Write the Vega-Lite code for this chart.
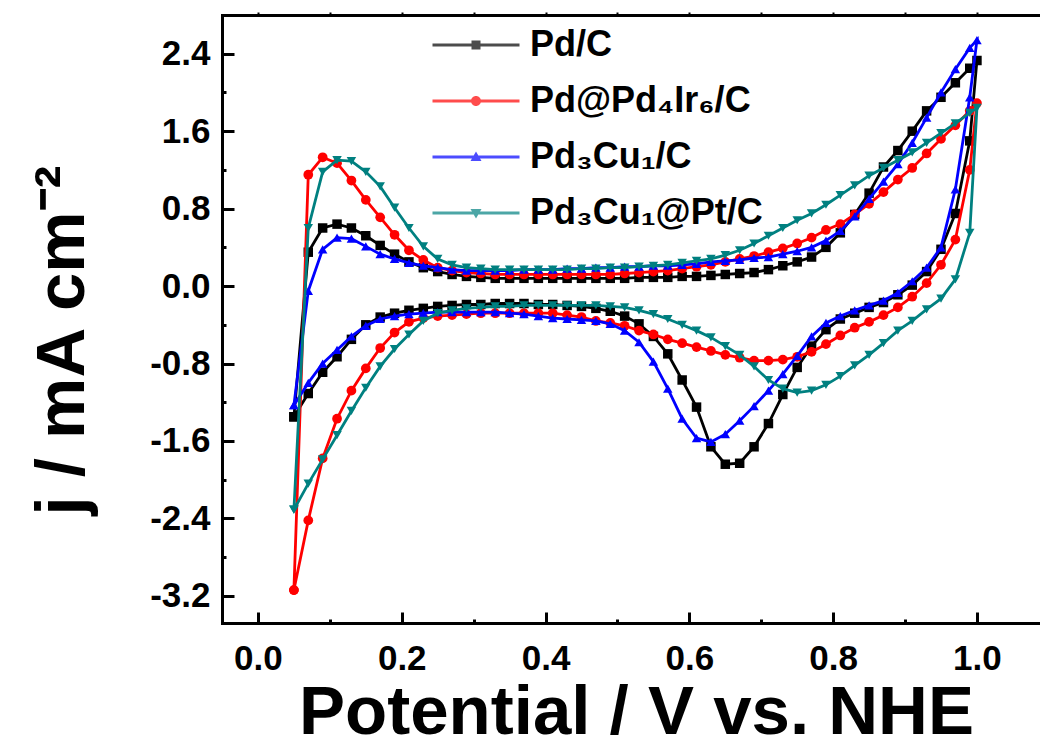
{
"$schema":"https://vega.github.io/schema/vega-lite/v6.json",
"width":818,"height":608,
"autosize":{"type":"none"},
"padding":{"left":222,"top":15,"right":0,"bottom":117},
"background":"white",
"config":{"view":{"stroke":null},"font":"Liberation Sans",
"axis":{"grid":false,"domainColor":"black","domainWidth":3,"domainCap":"square","tickColor":"black","tickWidth":3,"labelFont":"Liberation Sans","labelFontWeight":"bold","labelFontSize":35,"labelColor":"black","titleFont":"Liberation Sans","titleFontWeight":"bold","titleFontSize":69,"titleColor":"black","labelOverlap":false},
"legend":{"labelFont":"Liberation Sans","labelFontWeight":"bold","labelFontSize":36,"labelColor":"black","labelLimit":0}},
"data":{"values":[
{"s":"Pd/C","i":0,"v":0.05,"j":-1.35},{"s":"Pd/C","i":1,"v":0.07,"j":0.35},{"s":"Pd/C","i":2,"v":0.09,"j":0.60},{"s":"Pd/C","i":3,"v":0.11,"j":0.64},{"s":"Pd/C","i":4,"v":0.13,"j":0.60},{"s":"Pd/C","i":5,"v":0.15,"j":0.52},{"s":"Pd/C","i":6,"v":0.17,"j":0.42},{"s":"Pd/C","i":7,"v":0.19,"j":0.33},{"s":"Pd/C","i":8,"v":0.21,"j":0.25},{"s":"Pd/C","i":9,"v":0.23,"j":0.19},{"s":"Pd/C","i":10,"v":0.25,"j":0.15},{"s":"Pd/C","i":11,"v":0.27,"j":0.12},{"s":"Pd/C","i":12,"v":0.29,"j":0.10},{"s":"Pd/C","i":13,"v":0.31,"j":0.09},{"s":"Pd/C","i":14,"v":0.33,"j":0.08},{"s":"Pd/C","i":15,"v":0.35,"j":0.08},{"s":"Pd/C","i":16,"v":0.37,"j":0.08},{"s":"Pd/C","i":17,"v":0.39,"j":0.08},{"s":"Pd/C","i":18,"v":0.41,"j":0.08},{"s":"Pd/C","i":19,"v":0.43,"j":0.08},{"s":"Pd/C","i":20,"v":0.45,"j":0.08},{"s":"Pd/C","i":21,"v":0.47,"j":0.08},{"s":"Pd/C","i":22,"v":0.49,"j":0.08},{"s":"Pd/C","i":23,"v":0.51,"j":0.08},{"s":"Pd/C","i":24,"v":0.53,"j":0.09},{"s":"Pd/C","i":25,"v":0.55,"j":0.09},{"s":"Pd/C","i":26,"v":0.57,"j":0.09},{"s":"Pd/C","i":27,"v":0.59,"j":0.10},{"s":"Pd/C","i":28,"v":0.61,"j":0.10},{"s":"Pd/C","i":29,"v":0.63,"j":0.11},{"s":"Pd/C","i":30,"v":0.65,"j":0.12},{"s":"Pd/C","i":31,"v":0.67,"j":0.13},{"s":"Pd/C","i":32,"v":0.69,"j":0.14},{"s":"Pd/C","i":33,"v":0.71,"j":0.17},{"s":"Pd/C","i":34,"v":0.73,"j":0.21},{"s":"Pd/C","i":35,"v":0.75,"j":0.25},{"s":"Pd/C","i":36,"v":0.77,"j":0.30},{"s":"Pd/C","i":37,"v":0.79,"j":0.40},{"s":"Pd/C","i":38,"v":0.81,"j":0.55},{"s":"Pd/C","i":39,"v":0.83,"j":0.74},{"s":"Pd/C","i":40,"v":0.85,"j":0.96},{"s":"Pd/C","i":41,"v":0.87,"j":1.23},{"s":"Pd/C","i":42,"v":0.89,"j":1.40},{"s":"Pd/C","i":43,"v":0.91,"j":1.60},{"s":"Pd/C","i":44,"v":0.93,"j":1.81},{"s":"Pd/C","i":45,"v":0.95,"j":1.95},{"s":"Pd/C","i":46,"v":0.97,"j":2.10},{"s":"Pd/C","i":47,"v":0.99,"j":2.25},{"s":"Pd/C","i":48,"v":1.0,"j":2.33},
{"s":"Pd/C","i":49,"v":0.99,"j":1.50},{"s":"Pd/C","i":50,"v":0.97,"j":0.75},{"s":"Pd/C","i":51,"v":0.95,"j":0.38},{"s":"Pd/C","i":52,"v":0.93,"j":0.15},{"s":"Pd/C","i":53,"v":0.91,"j":0.01},{"s":"Pd/C","i":54,"v":0.89,"j":-0.09},{"s":"Pd/C","i":55,"v":0.87,"j":-0.17},{"s":"Pd/C","i":56,"v":0.85,"j":-0.22},{"s":"Pd/C","i":57,"v":0.83,"j":-0.28},{"s":"Pd/C","i":58,"v":0.81,"j":-0.34},{"s":"Pd/C","i":59,"v":0.79,"j":-0.45},{"s":"Pd/C","i":60,"v":0.77,"j":-0.62},{"s":"Pd/C","i":61,"v":0.75,"j":-0.84},{"s":"Pd/C","i":62,"v":0.73,"j":-1.12},{"s":"Pd/C","i":63,"v":0.71,"j":-1.42},{"s":"Pd/C","i":64,"v":0.69,"j":-1.66},{"s":"Pd/C","i":65,"v":0.67,"j":-1.83},{"s":"Pd/C","i":66,"v":0.65,"j":-1.84},{"s":"Pd/C","i":67,"v":0.63,"j":-1.66},{"s":"Pd/C","i":68,"v":0.61,"j":-1.25},{"s":"Pd/C","i":69,"v":0.59,"j":-0.97},{"s":"Pd/C","i":70,"v":0.57,"j":-0.70},{"s":"Pd/C","i":71,"v":0.55,"j":-0.52},{"s":"Pd/C","i":72,"v":0.53,"j":-0.39},{"s":"Pd/C","i":73,"v":0.51,"j":-0.31},{"s":"Pd/C","i":74,"v":0.49,"j":-0.26},{"s":"Pd/C","i":75,"v":0.47,"j":-0.23},{"s":"Pd/C","i":76,"v":0.45,"j":-0.21},{"s":"Pd/C","i":77,"v":0.43,"j":-0.20},{"s":"Pd/C","i":78,"v":0.41,"j":-0.19},{"s":"Pd/C","i":79,"v":0.39,"j":-0.19},{"s":"Pd/C","i":80,"v":0.37,"j":-0.18},{"s":"Pd/C","i":81,"v":0.35,"j":-0.18},{"s":"Pd/C","i":82,"v":0.33,"j":-0.18},{"s":"Pd/C","i":83,"v":0.31,"j":-0.19},{"s":"Pd/C","i":84,"v":0.29,"j":-0.19},{"s":"Pd/C","i":85,"v":0.27,"j":-0.20},{"s":"Pd/C","i":86,"v":0.25,"j":-0.21},{"s":"Pd/C","i":87,"v":0.23,"j":-0.23},{"s":"Pd/C","i":88,"v":0.21,"j":-0.25},{"s":"Pd/C","i":89,"v":0.19,"j":-0.28},{"s":"Pd/C","i":90,"v":0.17,"j":-0.32},{"s":"Pd/C","i":91,"v":0.15,"j":-0.40},{"s":"Pd/C","i":92,"v":0.13,"j":-0.55},{"s":"Pd/C","i":93,"v":0.11,"j":-0.73},{"s":"Pd/C","i":94,"v":0.09,"j":-0.89},{"s":"Pd/C","i":95,"v":0.07,"j":-1.11},{"s":"Pd/C","i":96,"v":0.05,"j":-1.35},
{"s":"Pd@Pd₄Ir₆/C","i":0,"v":0.05,"j":-3.14},{"s":"Pd@Pd₄Ir₆/C","i":1,"v":0.07,"j":1.15},{"s":"Pd@Pd₄Ir₆/C","i":2,"v":0.09,"j":1.33},{"s":"Pd@Pd₄Ir₆/C","i":3,"v":0.11,"j":1.27},{"s":"Pd@Pd₄Ir₆/C","i":4,"v":0.13,"j":1.09},{"s":"Pd@Pd₄Ir₆/C","i":5,"v":0.15,"j":0.89},{"s":"Pd@Pd₄Ir₆/C","i":6,"v":0.17,"j":0.71},{"s":"Pd@Pd₄Ir₆/C","i":7,"v":0.19,"j":0.53},{"s":"Pd@Pd₄Ir₆/C","i":8,"v":0.21,"j":0.37},{"s":"Pd@Pd₄Ir₆/C","i":9,"v":0.23,"j":0.27},{"s":"Pd@Pd₄Ir₆/C","i":10,"v":0.25,"j":0.19},{"s":"Pd@Pd₄Ir₆/C","i":11,"v":0.27,"j":0.16},{"s":"Pd@Pd₄Ir₆/C","i":12,"v":0.29,"j":0.14},{"s":"Pd@Pd₄Ir₆/C","i":13,"v":0.31,"j":0.13},{"s":"Pd@Pd₄Ir₆/C","i":14,"v":0.33,"j":0.12},{"s":"Pd@Pd₄Ir₆/C","i":15,"v":0.35,"j":0.12},{"s":"Pd@Pd₄Ir₆/C","i":16,"v":0.37,"j":0.12},{"s":"Pd@Pd₄Ir₆/C","i":17,"v":0.39,"j":0.12},{"s":"Pd@Pd₄Ir₆/C","i":18,"v":0.41,"j":0.12},{"s":"Pd@Pd₄Ir₆/C","i":19,"v":0.43,"j":0.12},{"s":"Pd@Pd₄Ir₆/C","i":20,"v":0.45,"j":0.12},{"s":"Pd@Pd₄Ir₆/C","i":21,"v":0.47,"j":0.12},{"s":"Pd@Pd₄Ir₆/C","i":22,"v":0.49,"j":0.12},{"s":"Pd@Pd₄Ir₆/C","i":23,"v":0.51,"j":0.13},{"s":"Pd@Pd₄Ir₆/C","i":24,"v":0.53,"j":0.14},{"s":"Pd@Pd₄Ir₆/C","i":25,"v":0.55,"j":0.15},{"s":"Pd@Pd₄Ir₆/C","i":26,"v":0.57,"j":0.16},{"s":"Pd@Pd₄Ir₆/C","i":27,"v":0.59,"j":0.18},{"s":"Pd@Pd₄Ir₆/C","i":28,"v":0.61,"j":0.20},{"s":"Pd@Pd₄Ir₆/C","i":29,"v":0.63,"j":0.22},{"s":"Pd@Pd₄Ir₆/C","i":30,"v":0.65,"j":0.25},{"s":"Pd@Pd₄Ir₆/C","i":31,"v":0.67,"j":0.28},{"s":"Pd@Pd₄Ir₆/C","i":32,"v":0.69,"j":0.31},{"s":"Pd@Pd₄Ir₆/C","i":33,"v":0.71,"j":0.35},{"s":"Pd@Pd₄Ir₆/C","i":34,"v":0.73,"j":0.39},{"s":"Pd@Pd₄Ir₆/C","i":35,"v":0.75,"j":0.44},{"s":"Pd@Pd₄Ir₆/C","i":36,"v":0.77,"j":0.50},{"s":"Pd@Pd₄Ir₆/C","i":37,"v":0.79,"j":0.58},{"s":"Pd@Pd₄Ir₆/C","i":38,"v":0.81,"j":0.64},{"s":"Pd@Pd₄Ir₆/C","i":39,"v":0.83,"j":0.74},{"s":"Pd@Pd₄Ir₆/C","i":40,"v":0.85,"j":0.85},{"s":"Pd@Pd₄Ir₆/C","i":41,"v":0.87,"j":0.97},{"s":"Pd@Pd₄Ir₆/C","i":42,"v":0.89,"j":1.10},{"s":"Pd@Pd₄Ir₆/C","i":43,"v":0.91,"j":1.22},{"s":"Pd@Pd₄Ir₆/C","i":44,"v":0.93,"j":1.37},{"s":"Pd@Pd₄Ir₆/C","i":45,"v":0.95,"j":1.52},{"s":"Pd@Pd₄Ir₆/C","i":46,"v":0.97,"j":1.66},{"s":"Pd@Pd₄Ir₆/C","i":47,"v":0.99,"j":1.81},{"s":"Pd@Pd₄Ir₆/C","i":48,"v":1.0,"j":1.89},
{"s":"Pd@Pd₄Ir₆/C","i":49,"v":0.99,"j":1.20},{"s":"Pd@Pd₄Ir₆/C","i":50,"v":0.97,"j":0.48},{"s":"Pd@Pd₄Ir₆/C","i":51,"v":0.95,"j":0.22},{"s":"Pd@Pd₄Ir₆/C","i":52,"v":0.93,"j":0.03},{"s":"Pd@Pd₄Ir₆/C","i":53,"v":0.91,"j":-0.11},{"s":"Pd@Pd₄Ir₆/C","i":54,"v":0.89,"j":-0.22},{"s":"Pd@Pd₄Ir₆/C","i":55,"v":0.87,"j":-0.30},{"s":"Pd@Pd₄Ir₆/C","i":56,"v":0.85,"j":-0.37},{"s":"Pd@Pd₄Ir₆/C","i":57,"v":0.83,"j":-0.43},{"s":"Pd@Pd₄Ir₆/C","i":58,"v":0.81,"j":-0.51},{"s":"Pd@Pd₄Ir₆/C","i":59,"v":0.79,"j":-0.60},{"s":"Pd@Pd₄Ir₆/C","i":60,"v":0.77,"j":-0.68},{"s":"Pd@Pd₄Ir₆/C","i":61,"v":0.75,"j":-0.73},{"s":"Pd@Pd₄Ir₆/C","i":62,"v":0.73,"j":-0.76},{"s":"Pd@Pd₄Ir₆/C","i":63,"v":0.71,"j":-0.77},{"s":"Pd@Pd₄Ir₆/C","i":64,"v":0.69,"j":-0.77},{"s":"Pd@Pd₄Ir₆/C","i":65,"v":0.67,"j":-0.74},{"s":"Pd@Pd₄Ir₆/C","i":66,"v":0.65,"j":-0.71},{"s":"Pd@Pd₄Ir₆/C","i":67,"v":0.63,"j":-0.67},{"s":"Pd@Pd₄Ir₆/C","i":68,"v":0.61,"j":-0.63},{"s":"Pd@Pd₄Ir₆/C","i":69,"v":0.59,"j":-0.59},{"s":"Pd@Pd₄Ir₆/C","i":70,"v":0.57,"j":-0.55},{"s":"Pd@Pd₄Ir₆/C","i":71,"v":0.55,"j":-0.50},{"s":"Pd@Pd₄Ir₆/C","i":72,"v":0.53,"j":-0.46},{"s":"Pd@Pd₄Ir₆/C","i":73,"v":0.51,"j":-0.41},{"s":"Pd@Pd₄Ir₆/C","i":74,"v":0.49,"j":-0.38},{"s":"Pd@Pd₄Ir₆/C","i":75,"v":0.47,"j":-0.36},{"s":"Pd@Pd₄Ir₆/C","i":76,"v":0.45,"j":-0.32},{"s":"Pd@Pd₄Ir₆/C","i":77,"v":0.43,"j":-0.30},{"s":"Pd@Pd₄Ir₆/C","i":78,"v":0.41,"j":-0.28},{"s":"Pd@Pd₄Ir₆/C","i":79,"v":0.39,"j":-0.28},{"s":"Pd@Pd₄Ir₆/C","i":80,"v":0.37,"j":-0.28},{"s":"Pd@Pd₄Ir₆/C","i":81,"v":0.35,"j":-0.28},{"s":"Pd@Pd₄Ir₆/C","i":82,"v":0.33,"j":-0.28},{"s":"Pd@Pd₄Ir₆/C","i":83,"v":0.31,"j":-0.28},{"s":"Pd@Pd₄Ir₆/C","i":84,"v":0.29,"j":-0.29},{"s":"Pd@Pd₄Ir₆/C","i":85,"v":0.27,"j":-0.30},{"s":"Pd@Pd₄Ir₆/C","i":86,"v":0.25,"j":-0.31},{"s":"Pd@Pd₄Ir₆/C","i":87,"v":0.23,"j":-0.33},{"s":"Pd@Pd₄Ir₆/C","i":88,"v":0.21,"j":-0.37},{"s":"Pd@Pd₄Ir₆/C","i":89,"v":0.19,"j":-0.48},{"s":"Pd@Pd₄Ir₆/C","i":90,"v":0.17,"j":-0.64},{"s":"Pd@Pd₄Ir₆/C","i":91,"v":0.15,"j":-0.85},{"s":"Pd@Pd₄Ir₆/C","i":92,"v":0.13,"j":-1.08},{"s":"Pd@Pd₄Ir₆/C","i":93,"v":0.11,"j":-1.37},{"s":"Pd@Pd₄Ir₆/C","i":94,"v":0.09,"j":-1.78},{"s":"Pd@Pd₄Ir₆/C","i":95,"v":0.07,"j":-2.42},{"s":"Pd@Pd₄Ir₆/C","i":96,"v":0.05,"j":-3.14},
{"s":"Pd₃Cu₁/C","i":0,"v":0.05,"j":-1.23},{"s":"Pd₃Cu₁/C","i":1,"v":0.07,"j":-0.05},{"s":"Pd₃Cu₁/C","i":2,"v":0.09,"j":0.38},{"s":"Pd₃Cu₁/C","i":3,"v":0.11,"j":0.50},{"s":"Pd₃Cu₁/C","i":4,"v":0.13,"j":0.49},{"s":"Pd₃Cu₁/C","i":5,"v":0.15,"j":0.41},{"s":"Pd₃Cu₁/C","i":6,"v":0.17,"j":0.33},{"s":"Pd₃Cu₁/C","i":7,"v":0.19,"j":0.28},{"s":"Pd₃Cu₁/C","i":8,"v":0.21,"j":0.24},{"s":"Pd₃Cu₁/C","i":9,"v":0.23,"j":0.21},{"s":"Pd₃Cu₁/C","i":10,"v":0.25,"j":0.19},{"s":"Pd₃Cu₁/C","i":11,"v":0.27,"j":0.17},{"s":"Pd₃Cu₁/C","i":12,"v":0.29,"j":0.16},{"s":"Pd₃Cu₁/C","i":13,"v":0.31,"j":0.16},{"s":"Pd₃Cu₁/C","i":14,"v":0.33,"j":0.16},{"s":"Pd₃Cu₁/C","i":15,"v":0.35,"j":0.16},{"s":"Pd₃Cu₁/C","i":16,"v":0.37,"j":0.17},{"s":"Pd₃Cu₁/C","i":17,"v":0.39,"j":0.17},{"s":"Pd₃Cu₁/C","i":18,"v":0.41,"j":0.17},{"s":"Pd₃Cu₁/C","i":19,"v":0.43,"j":0.18},{"s":"Pd₃Cu₁/C","i":20,"v":0.45,"j":0.18},{"s":"Pd₃Cu₁/C","i":21,"v":0.47,"j":0.19},{"s":"Pd₃Cu₁/C","i":22,"v":0.49,"j":0.19},{"s":"Pd₃Cu₁/C","i":23,"v":0.51,"j":0.20},{"s":"Pd₃Cu₁/C","i":24,"v":0.53,"j":0.20},{"s":"Pd₃Cu₁/C","i":25,"v":0.55,"j":0.21},{"s":"Pd₃Cu₁/C","i":26,"v":0.57,"j":0.21},{"s":"Pd₃Cu₁/C","i":27,"v":0.59,"j":0.22},{"s":"Pd₃Cu₁/C","i":28,"v":0.61,"j":0.23},{"s":"Pd₃Cu₁/C","i":29,"v":0.63,"j":0.25},{"s":"Pd₃Cu₁/C","i":30,"v":0.65,"j":0.26},{"s":"Pd₃Cu₁/C","i":31,"v":0.67,"j":0.27},{"s":"Pd₃Cu₁/C","i":32,"v":0.69,"j":0.29},{"s":"Pd₃Cu₁/C","i":33,"v":0.71,"j":0.30},{"s":"Pd₃Cu₁/C","i":34,"v":0.73,"j":0.33},{"s":"Pd₃Cu₁/C","i":35,"v":0.75,"j":0.36},{"s":"Pd₃Cu₁/C","i":36,"v":0.77,"j":0.40},{"s":"Pd₃Cu₁/C","i":37,"v":0.79,"j":0.47},{"s":"Pd₃Cu₁/C","i":38,"v":0.81,"j":0.57},{"s":"Pd₃Cu₁/C","i":39,"v":0.83,"j":0.72},{"s":"Pd₃Cu₁/C","i":40,"v":0.85,"j":0.90},{"s":"Pd₃Cu₁/C","i":41,"v":0.87,"j":1.08},{"s":"Pd₃Cu₁/C","i":42,"v":0.89,"j":1.26},{"s":"Pd₃Cu₁/C","i":43,"v":0.91,"j":1.48},{"s":"Pd₃Cu₁/C","i":44,"v":0.93,"j":1.74},{"s":"Pd₃Cu₁/C","i":45,"v":0.95,"j":2.00},{"s":"Pd₃Cu₁/C","i":46,"v":0.97,"j":2.24},{"s":"Pd₃Cu₁/C","i":47,"v":0.99,"j":2.46},{"s":"Pd₃Cu₁/C","i":48,"v":1.0,"j":2.54},
{"s":"Pd₃Cu₁/C","i":49,"v":0.99,"j":1.95},{"s":"Pd₃Cu₁/C","i":50,"v":0.97,"j":1.00},{"s":"Pd₃Cu₁/C","i":51,"v":0.95,"j":0.40},{"s":"Pd₃Cu₁/C","i":52,"v":0.93,"j":0.19},{"s":"Pd₃Cu₁/C","i":53,"v":0.91,"j":0.05},{"s":"Pd₃Cu₁/C","i":54,"v":0.89,"j":-0.07},{"s":"Pd₃Cu₁/C","i":55,"v":0.87,"j":-0.15},{"s":"Pd₃Cu₁/C","i":56,"v":0.85,"j":-0.20},{"s":"Pd₃Cu₁/C","i":57,"v":0.83,"j":-0.25},{"s":"Pd₃Cu₁/C","i":58,"v":0.81,"j":-0.31},{"s":"Pd₃Cu₁/C","i":59,"v":0.79,"j":-0.38},{"s":"Pd₃Cu₁/C","i":60,"v":0.77,"j":-0.52},{"s":"Pd₃Cu₁/C","i":61,"v":0.75,"j":-0.72},{"s":"Pd₃Cu₁/C","i":62,"v":0.73,"j":-0.91},{"s":"Pd₃Cu₁/C","i":63,"v":0.71,"j":-1.08},{"s":"Pd₃Cu₁/C","i":64,"v":0.69,"j":-1.24},{"s":"Pd₃Cu₁/C","i":65,"v":0.67,"j":-1.39},{"s":"Pd₃Cu₁/C","i":66,"v":0.65,"j":-1.53},{"s":"Pd₃Cu₁/C","i":67,"v":0.63,"j":-1.61},{"s":"Pd₃Cu₁/C","i":68,"v":0.61,"j":-1.57},{"s":"Pd₃Cu₁/C","i":69,"v":0.59,"j":-1.37},{"s":"Pd₃Cu₁/C","i":70,"v":0.57,"j":-1.06},{"s":"Pd₃Cu₁/C","i":71,"v":0.55,"j":-0.78},{"s":"Pd₃Cu₁/C","i":72,"v":0.53,"j":-0.58},{"s":"Pd₃Cu₁/C","i":73,"v":0.51,"j":-0.46},{"s":"Pd₃Cu₁/C","i":74,"v":0.49,"j":-0.39},{"s":"Pd₃Cu₁/C","i":75,"v":0.47,"j":-0.36},{"s":"Pd₃Cu₁/C","i":76,"v":0.45,"j":-0.35},{"s":"Pd₃Cu₁/C","i":77,"v":0.43,"j":-0.34},{"s":"Pd₃Cu₁/C","i":78,"v":0.41,"j":-0.33},{"s":"Pd₃Cu₁/C","i":79,"v":0.39,"j":-0.31},{"s":"Pd₃Cu₁/C","i":80,"v":0.37,"j":-0.29},{"s":"Pd₃Cu₁/C","i":81,"v":0.35,"j":-0.28},{"s":"Pd₃Cu₁/C","i":82,"v":0.33,"j":-0.27},{"s":"Pd₃Cu₁/C","i":83,"v":0.31,"j":-0.27},{"s":"Pd₃Cu₁/C","i":84,"v":0.29,"j":-0.27},{"s":"Pd₃Cu₁/C","i":85,"v":0.27,"j":-0.27},{"s":"Pd₃Cu₁/C","i":86,"v":0.25,"j":-0.27},{"s":"Pd₃Cu₁/C","i":87,"v":0.23,"j":-0.28},{"s":"Pd₃Cu₁/C","i":88,"v":0.21,"j":-0.29},{"s":"Pd₃Cu₁/C","i":89,"v":0.19,"j":-0.31},{"s":"Pd₃Cu₁/C","i":90,"v":0.17,"j":-0.34},{"s":"Pd₃Cu₁/C","i":91,"v":0.15,"j":-0.41},{"s":"Pd₃Cu₁/C","i":92,"v":0.13,"j":-0.52},{"s":"Pd₃Cu₁/C","i":93,"v":0.11,"j":-0.66},{"s":"Pd₃Cu₁/C","i":94,"v":0.09,"j":-0.80},{"s":"Pd₃Cu₁/C","i":95,"v":0.07,"j":-1.00},{"s":"Pd₃Cu₁/C","i":96,"v":0.05,"j":-1.23},
{"s":"Pd₃Cu₁@Pt/C","i":0,"v":0.05,"j":-2.31},{"s":"Pd₃Cu₁@Pt/C","i":1,"v":0.07,"j":0.60},{"s":"Pd₃Cu₁@Pt/C","i":2,"v":0.09,"j":1.18},{"s":"Pd₃Cu₁@Pt/C","i":3,"v":0.11,"j":1.30},{"s":"Pd₃Cu₁@Pt/C","i":4,"v":0.13,"j":1.29},{"s":"Pd₃Cu₁@Pt/C","i":5,"v":0.15,"j":1.18},{"s":"Pd₃Cu₁@Pt/C","i":6,"v":0.17,"j":1.03},{"s":"Pd₃Cu₁@Pt/C","i":7,"v":0.19,"j":0.81},{"s":"Pd₃Cu₁@Pt/C","i":8,"v":0.21,"j":0.60},{"s":"Pd₃Cu₁@Pt/C","i":9,"v":0.23,"j":0.41},{"s":"Pd₃Cu₁@Pt/C","i":10,"v":0.25,"j":0.28},{"s":"Pd₃Cu₁@Pt/C","i":11,"v":0.27,"j":0.22},{"s":"Pd₃Cu₁@Pt/C","i":12,"v":0.29,"j":0.19},{"s":"Pd₃Cu₁@Pt/C","i":13,"v":0.31,"j":0.18},{"s":"Pd₃Cu₁@Pt/C","i":14,"v":0.33,"j":0.17},{"s":"Pd₃Cu₁@Pt/C","i":15,"v":0.35,"j":0.17},{"s":"Pd₃Cu₁@Pt/C","i":16,"v":0.37,"j":0.17},{"s":"Pd₃Cu₁@Pt/C","i":17,"v":0.39,"j":0.17},{"s":"Pd₃Cu₁@Pt/C","i":18,"v":0.41,"j":0.17},{"s":"Pd₃Cu₁@Pt/C","i":19,"v":0.43,"j":0.17},{"s":"Pd₃Cu₁@Pt/C","i":20,"v":0.45,"j":0.18},{"s":"Pd₃Cu₁@Pt/C","i":21,"v":0.47,"j":0.18},{"s":"Pd₃Cu₁@Pt/C","i":22,"v":0.49,"j":0.19},{"s":"Pd₃Cu₁@Pt/C","i":23,"v":0.51,"j":0.19},{"s":"Pd₃Cu₁@Pt/C","i":24,"v":0.53,"j":0.20},{"s":"Pd₃Cu₁@Pt/C","i":25,"v":0.55,"j":0.21},{"s":"Pd₃Cu₁@Pt/C","i":26,"v":0.57,"j":0.22},{"s":"Pd₃Cu₁@Pt/C","i":27,"v":0.59,"j":0.24},{"s":"Pd₃Cu₁@Pt/C","i":28,"v":0.61,"j":0.26},{"s":"Pd₃Cu₁@Pt/C","i":29,"v":0.63,"j":0.28},{"s":"Pd₃Cu₁@Pt/C","i":30,"v":0.65,"j":0.32},{"s":"Pd₃Cu₁@Pt/C","i":31,"v":0.67,"j":0.37},{"s":"Pd₃Cu₁@Pt/C","i":32,"v":0.69,"j":0.44},{"s":"Pd₃Cu₁@Pt/C","i":33,"v":0.71,"j":0.52},{"s":"Pd₃Cu₁@Pt/C","i":34,"v":0.73,"j":0.60},{"s":"Pd₃Cu₁@Pt/C","i":35,"v":0.75,"j":0.68},{"s":"Pd₃Cu₁@Pt/C","i":36,"v":0.77,"j":0.75},{"s":"Pd₃Cu₁@Pt/C","i":37,"v":0.79,"j":0.84},{"s":"Pd₃Cu₁@Pt/C","i":38,"v":0.81,"j":0.94},{"s":"Pd₃Cu₁@Pt/C","i":39,"v":0.83,"j":1.04},{"s":"Pd₃Cu₁@Pt/C","i":40,"v":0.85,"j":1.14},{"s":"Pd₃Cu₁@Pt/C","i":41,"v":0.87,"j":1.22},{"s":"Pd₃Cu₁@Pt/C","i":42,"v":0.89,"j":1.30},{"s":"Pd₃Cu₁@Pt/C","i":43,"v":0.91,"j":1.38},{"s":"Pd₃Cu₁@Pt/C","i":44,"v":0.93,"j":1.48},{"s":"Pd₃Cu₁@Pt/C","i":45,"v":0.95,"j":1.58},{"s":"Pd₃Cu₁@Pt/C","i":46,"v":0.97,"j":1.68},{"s":"Pd₃Cu₁@Pt/C","i":47,"v":0.99,"j":1.79},{"s":"Pd₃Cu₁@Pt/C","i":48,"v":1.0,"j":1.84},
{"s":"Pd₃Cu₁@Pt/C","i":49,"v":0.99,"j":0.55},{"s":"Pd₃Cu₁@Pt/C","i":50,"v":0.97,"j":0.07},{"s":"Pd₃Cu₁@Pt/C","i":51,"v":0.95,"j":-0.13},{"s":"Pd₃Cu₁@Pt/C","i":52,"v":0.93,"j":-0.24},{"s":"Pd₃Cu₁@Pt/C","i":53,"v":0.91,"j":-0.36},{"s":"Pd₃Cu₁@Pt/C","i":54,"v":0.89,"j":-0.46},{"s":"Pd₃Cu₁@Pt/C","i":55,"v":0.87,"j":-0.59},{"s":"Pd₃Cu₁@Pt/C","i":56,"v":0.85,"j":-0.71},{"s":"Pd₃Cu₁@Pt/C","i":57,"v":0.83,"j":-0.82},{"s":"Pd₃Cu₁@Pt/C","i":58,"v":0.81,"j":-0.93},{"s":"Pd₃Cu₁@Pt/C","i":59,"v":0.79,"j":-1.02},{"s":"Pd₃Cu₁@Pt/C","i":60,"v":0.77,"j":-1.08},{"s":"Pd₃Cu₁@Pt/C","i":61,"v":0.75,"j":-1.10},{"s":"Pd₃Cu₁@Pt/C","i":62,"v":0.73,"j":-1.06},{"s":"Pd₃Cu₁@Pt/C","i":63,"v":0.71,"j":-0.97},{"s":"Pd₃Cu₁@Pt/C","i":64,"v":0.69,"j":-0.83},{"s":"Pd₃Cu₁@Pt/C","i":65,"v":0.67,"j":-0.71},{"s":"Pd₃Cu₁@Pt/C","i":66,"v":0.65,"j":-0.62},{"s":"Pd₃Cu₁@Pt/C","i":67,"v":0.63,"j":-0.53},{"s":"Pd₃Cu₁@Pt/C","i":68,"v":0.61,"j":-0.46},{"s":"Pd₃Cu₁@Pt/C","i":69,"v":0.59,"j":-0.40},{"s":"Pd₃Cu₁@Pt/C","i":70,"v":0.57,"j":-0.34},{"s":"Pd₃Cu₁@Pt/C","i":71,"v":0.55,"j":-0.29},{"s":"Pd₃Cu₁@Pt/C","i":72,"v":0.53,"j":-0.25},{"s":"Pd₃Cu₁@Pt/C","i":73,"v":0.51,"j":-0.22},{"s":"Pd₃Cu₁@Pt/C","i":74,"v":0.49,"j":-0.21},{"s":"Pd₃Cu₁@Pt/C","i":75,"v":0.47,"j":-0.20},{"s":"Pd₃Cu₁@Pt/C","i":76,"v":0.45,"j":-0.20},{"s":"Pd₃Cu₁@Pt/C","i":77,"v":0.43,"j":-0.20},{"s":"Pd₃Cu₁@Pt/C","i":78,"v":0.41,"j":-0.20},{"s":"Pd₃Cu₁@Pt/C","i":79,"v":0.39,"j":-0.20},{"s":"Pd₃Cu₁@Pt/C","i":80,"v":0.37,"j":-0.20},{"s":"Pd₃Cu₁@Pt/C","i":81,"v":0.35,"j":-0.21},{"s":"Pd₃Cu₁@Pt/C","i":82,"v":0.33,"j":-0.21},{"s":"Pd₃Cu₁@Pt/C","i":83,"v":0.31,"j":-0.22},{"s":"Pd₃Cu₁@Pt/C","i":84,"v":0.29,"j":-0.23},{"s":"Pd₃Cu₁@Pt/C","i":85,"v":0.27,"j":-0.25},{"s":"Pd₃Cu₁@Pt/C","i":86,"v":0.25,"j":-0.28},{"s":"Pd₃Cu₁@Pt/C","i":87,"v":0.23,"j":-0.36},{"s":"Pd₃Cu₁@Pt/C","i":88,"v":0.21,"j":-0.50},{"s":"Pd₃Cu₁@Pt/C","i":89,"v":0.19,"j":-0.65},{"s":"Pd₃Cu₁@Pt/C","i":90,"v":0.17,"j":-0.83},{"s":"Pd₃Cu₁@Pt/C","i":91,"v":0.15,"j":-1.05},{"s":"Pd₃Cu₁@Pt/C","i":92,"v":0.13,"j":-1.29},{"s":"Pd₃Cu₁@Pt/C","i":93,"v":0.11,"j":-1.54},{"s":"Pd₃Cu₁@Pt/C","i":94,"v":0.09,"j":-1.79},{"s":"Pd₃Cu₁@Pt/C","i":95,"v":0.07,"j":-2.04},{"s":"Pd₃Cu₁@Pt/C","i":96,"v":0.05,"j":-2.31}
]},
"resolve":{"axis":{"x":"independent"}},
"layer":[
{"transform":[{"filter":"datum.s == 'Pd/C'"}],
 "mark":{"type":"line","strokeWidth":2.8,"color":"#000000","clip":true},
 "encoding":{
  "x":{"field":"v","type":"quantitative","scale":{"domain":[-0.05,1.0877],"nice":false,"zero":false},
   "axis":{"orient":"bottom","values":[0,0.1,0.2,0.3,0.4,0.5,0.6,0.7,0.8,0.9,1.0],
    "labelExpr":"round(datum.value*10)%2==0 ? format(datum.value,'.1f') : ''",
    "tickSize":{"condition":{"test":"round(datum.value*10)%2==0","value":-11},"value":-4},
    "labelPadding":29,"title":"Potential / V vs. NHE","titleX":414,"titleY":110,"titleBaseline":"alphabetic"}},
  "y":{"field":"j","type":"quantitative","scale":{"domain":[-3.48,2.8],"nice":false,"zero":false},
   "axis":{"orient":"left","values":[-3.2,-2.8,-2.4,-2,-1.6,-1.2,-0.8,-0.4,0,0.4,0.8,1.2,1.6,2,2.4],
    "labelExpr":"round(datum.value*10)%8==0 ? replace(format(datum.value,'.1f'),'\u2212','-') : ''",
    "tickSize":{"condition":{"test":"round(datum.value*10)%8==0","value":-12},"value":-4},
    "labelPadding":24,"title":"j / mA cm⁻²","titleX":-139,"titleY":325,"titleBaseline":"alphabetic","titleAlign":"center","titleAngle":-90}},
  "order":{"field":"i","type":"quantitative"}
 }},
{"transform":[{"filter":"datum.s == 'Pd/C'"}],
 "mark":{"type":"point","shape":"square","filled":true,"size":90,"opacity":1,"color":"#000000"},
 "encoding":{
  "x":{"field":"v","type":"quantitative","axis":{"orient":"top","values":[0,0.1,0.2,0.3,0.4,0.5,0.6,0.7,0.8,0.9,1.0],"labels":false,"title":null,"tickSize":3,"tickWidth":2}},
  "y":{"field":"j","type":"quantitative"}
 }},
{"transform":[{"filter":"datum.s == 'Pd@Pd₄Ir₆/C'"}],
 "mark":{"type":"line","strokeWidth":2.8,"color":"#FF0000","clip":true},
 "encoding":{
  "x":{"field":"v","type":"quantitative","axis":null},
  "y":{"field":"j","type":"quantitative"},
  "order":{"field":"i","type":"quantitative"}
 }},
{"transform":[{"filter":"datum.s == 'Pd@Pd₄Ir₆/C'"}],
 "mark":{"type":"point","shape":"circle","filled":true,"size":95,"opacity":1,"color":"#FF0000"},
 "encoding":{
  "x":{"field":"v","type":"quantitative","axis":null},
  "y":{"field":"j","type":"quantitative"}
 }},
{"transform":[{"filter":"datum.s == 'Pd₃Cu₁/C'"}],
 "mark":{"type":"line","strokeWidth":2.8,"color":"#0000FF","clip":true},
 "encoding":{
  "x":{"field":"v","type":"quantitative","axis":null},
  "y":{"field":"j","type":"quantitative"},
  "order":{"field":"i","type":"quantitative"}
 }},
{"transform":[{"filter":"datum.s == 'Pd₃Cu₁/C'"}],
 "mark":{"type":"point","shape":"triangle-up","filled":true,"size":90,"opacity":1,"color":"#0000FF"},
 "encoding":{
  "x":{"field":"v","type":"quantitative","axis":null},
  "y":{"field":"j","type":"quantitative"}
 }},
{"transform":[{"filter":"datum.s == 'Pd₃Cu₁@Pt/C'"}],
 "mark":{"type":"line","strokeWidth":2.8,"color":"#008080","clip":true},
 "encoding":{
  "x":{"field":"v","type":"quantitative","axis":null},
  "y":{"field":"j","type":"quantitative"},
  "order":{"field":"i","type":"quantitative"}
 }},
{"transform":[{"filter":"datum.s == 'Pd₃Cu₁@Pt/C'"}],
 "mark":{"type":"point","shape":"triangle-down","filled":true,"size":90,"opacity":1,"color":"#008080"},
 "encoding":{
  "x":{"field":"v","type":"quantitative","axis":null},
  "y":{"field":"j","type":"quantitative"}
 }},
{"transform":[{"filter":"datum.i < 0"}],
 "mark":{"type":"point","filled":true},
 "encoding":{
  "x":{"field":"v","type":"quantitative","axis":null},
  "y":{"field":"j","type":"quantitative"},
  "color":{"field":"s","type":"nominal","scale":{"domain":["Pd/C","Pd@Pd₄Ir₆/C","Pd₃Cu₁/C","Pd₃Cu₁@Pt/C"],"range":["#000000","#FF0000","#0000FF","#008080"]},
   "legend":{"title":null,"orient":"none","legendX":236,"legendY":12,"padding":0,"symbolSize":100,"symbolStrokeWidth":0,"labelOffset":36,"rowPadding":20}},
  "shape":{"field":"s","type":"nominal","scale":{"domain":["Pd/C","Pd@Pd₄Ir₆/C","Pd₃Cu₁/C","Pd₃Cu₁@Pt/C"],"range":["M-8.7,-0.3H8.7V0.3H-8.7Z M-0.9,-0.9H0.9V0.9H-0.9Z","M-8.7,-0.3H8.7V0.3H-8.7Z M1,0A1,1,0,1,1,-1,0A1,1,0,1,1,1,0Z","M-8.7,-0.3H8.7V0.3H-8.7Z M0,-1.1L1.1,0.8H-1.1Z","M-8.7,-0.3H8.7V0.3H-8.7Z M0,1.1L-1.1,-0.8H1.1Z"]},
   "legend":{"title":null,"orient":"none","legendX":236,"legendY":12,"padding":0,"symbolSize":100,"symbolStrokeWidth":0,"labelOffset":36,"rowPadding":20}}
 }}
]
}
